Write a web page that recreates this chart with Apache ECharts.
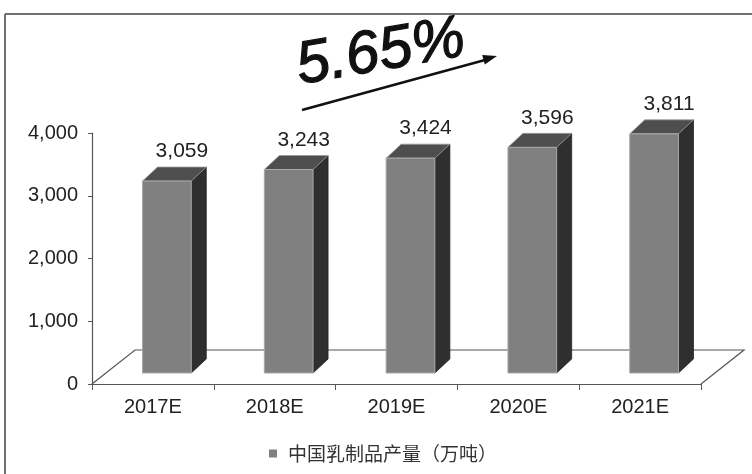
<!DOCTYPE html>
<html>
<head>
<meta charset="utf-8">
<style>
  html, body { margin: 0; padding: 0; background: #ffffff; }
  #chart { width: 752px; height: 474px; }
</style>
<script src="https://cdn.jsdelivr.net/npm/echarts@6/dist/echarts.min.js"></script>
</head>
<body>
<div id="chart"></div>
<script>
// ---- data ----
const categories = ['2017E', '2018E', '2019E', '2020E', '2021E'];
const production = [3059, 3243, 3424, 3596, 3811];
const seriesName = '中国乳制品产量（万吨）';
const yTicks = [0, 1000, 2000, 3000, 4000];
const cagrLabel = '5.65%';

// ---- style constants ----
const FONT = '"Liberation Sans", Arial, sans-serif';
const DEPTH_X = 15, DEPTH_Y = -14;     // bar depth
const SHIFT_X = 14, SHIFT_Y = -11;     // bar placed into floor
const FLOOR_X = 43, FLOOR_Y = -34;     // floor depth

function fmt(n) { return String(n).replace(/\B(?=(\d{3})+(?!\d))/g, ','); }

const chart = echarts.init(document.getElementById('chart'), null, { renderer: 'canvas' });

function renderFloor(params, api) {
  const cs = params.coordSys;
  const fl = [cs.x, cs.y + cs.height];
  const fr = [cs.x + cs.width, cs.y + cs.height];
  const bl = [fl[0] + FLOOR_X, fl[1] + FLOOR_Y];
  const br = [fr[0] + FLOOR_X, fr[1] + FLOOR_Y];
  return {
    type: 'polyline',
    shape: { points: [fl, bl, br, fr] },
    style: { stroke: '#555', lineWidth: 1.2, fill: null },
    silent: true
  };
}

function renderBar(params, api) {
  const cat = api.value(0), v = api.value(1);
  const base = api.coord([cat, 0]);
  const top = api.coord([cat, v]);
  const band = api.size([1, 0])[0];
  const w = band * 0.4;
  const cx = base[0] + SHIFT_X;
  const xl = cx - w / 2, xr = cx + w / 2;
  const yb = base[1] + SHIFT_Y, yt = top[1] + SHIFT_Y;
  return {
    type: 'group',
    children: [
      { type: 'polygon', shape: { points: [[xr, yt], [xr + DEPTH_X, yt + DEPTH_Y], [xr + DEPTH_X, yb + DEPTH_Y], [xr, yb]] },
        style: { fill: '#2f2f2f', stroke: '#222', lineWidth: 0.8 } },
      { type: 'polygon', shape: { points: [[xl, yt], [xl + DEPTH_X, yt + DEPTH_Y], [xr + DEPTH_X, yt + DEPTH_Y], [xr, yt]] },
        style: { fill: '#4e4e4e', stroke: '#9a9a9a', lineWidth: 0.8 } },
      { type: 'rect', shape: { x: xl, y: yt, width: w, height: yb - yt },
        style: { fill: '#808080', stroke: '#a8a8a8', lineWidth: 1 } },
      { type: 'text', x: cx + DEPTH_X, y: yt + DEPTH_Y - 5,
        style: { text: fmt(v), textAlign: 'center', textVerticalAlign: 'bottom',
                 fontSize: 21, fontFamily: FONT, fill: '#222' } }
    ]
  };
}

const option = {
  backgroundColor: '#ffffff',
  animation: false,
  grid: { left: 92, right: 51, top: 133, bottom: 90, containLabel: false },
  legend: {
    data: [{ name: seriesName, icon: 'rect' }],
    left: 264, top: 439,
    itemWidth: 8, itemHeight: 8,
    textStyle: { fontSize: 19, color: '#333', fontFamily: '"Noto Sans CJK SC", sans-serif', padding: [0, 0, 0, 6] }
  },
  xAxis: {
    type: 'category',
    data: categories,
    boundaryGap: true,
    axisLine: { show: true, lineStyle: { color: '#555', width: 1.2 } },
    axisTick: { show: true, length: 6, interval: 0, lineStyle: { color: '#555' } },
    axisLabel: { fontSize: 20, color: '#222', fontFamily: FONT, margin: 13, interval: 0 },
    splitLine: { show: false }
  },
  yAxis: {
    type: 'value',
    min: yTicks[0], max: yTicks[yTicks.length - 1], interval: 1000,
    axisLine: { show: true, lineStyle: { color: '#555', width: 1.2 } },
    axisTick: { show: true, length: 4, lineStyle: { color: '#555' } },
    axisLabel: { fontSize: 20, color: '#222', fontFamily: FONT, margin: 14, formatter: v => fmt(v) },
    splitLine: { show: false }
  },
  series: [
    {
      type: 'custom', name: 'floor', silent: true, z: 1,
      renderItem: renderFloor,
      data: [[0, 0]]
    },
    {
      type: 'custom', name: seriesName, z: 2,
      itemStyle: { color: '#808080' },
      renderItem: renderBar,
      encode: { x: 0, y: 1 },
      data: categories.map((c, i) => [i, production[i]])
    }
  ],
  graphic: [
    { type: 'line', shape: { x1: 5, y1: 14, x2: 752, y2: 14 }, style: { stroke: '#707070', lineWidth: 2 }, silent: true },
    { type: 'line', shape: { x1: 5, y1: 14, x2: 5, y2: 474 }, style: { stroke: '#707070', lineWidth: 2 }, silent: true },
    { type: 'text', x: 302, y: 97, rotation: 0.17,
      style: { text: cagrLabel, fontSize: 60, fontFamily: FONT, fontWeight: 'normal', fontStyle: 'italic', fill: '#111',
               stroke: '#111', lineWidth: 1.2,
               textAlign: 'left', textVerticalAlign: 'bottom' }, silent: true },
    { type: 'line', shape: { x1: 302, y1: 110, x2: 485, y2: 60 }, style: { stroke: '#111', lineWidth: 2.5 }, silent: true },
    { type: 'polygon', shape: { points: [[497, 56], [484.8, 64.5], [482.2, 54.9]] }, style: { fill: '#111' }, silent: true }
  ]
};
chart.setOption(option);
</script>
</body>
</html>
